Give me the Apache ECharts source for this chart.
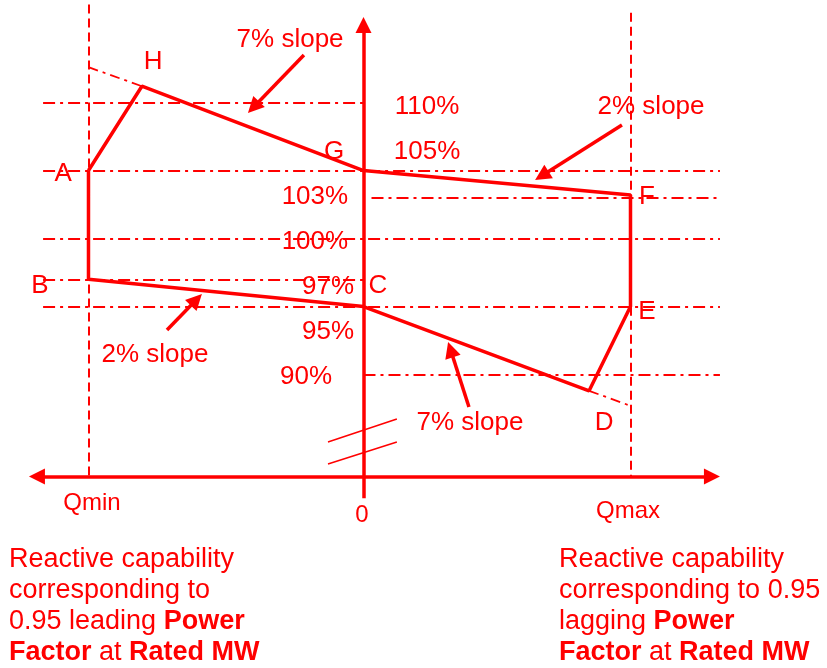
<!DOCTYPE html>
<html>
<head>
<meta charset="UTF-8">
<title>Reactive capability</title>
<style>
  html, body { margin: 0; padding: 0; background: #fff; }
  #chart { width: 827px; height: 668px; }
</style>
<script src="https://cdn.jsdelivr.net/npm/echarts@6/dist/echarts.min.js"></script>
</head>
<body>
<div id="chart"></div>
<script>
// x = reactive power (Qmin .. Qmax, in % of Qmax), y = voltage in %
var qMin = -103, qMax = 100;

// dash-dot voltage levels and how far each one runs along Q
var levels     = [110, 105, 103, 100, 97, 95, 90];
var levelFrom  = [-120, -120, 3, -120, -120, -120, 0];
var levelTo    = [0, 133.5, 133.5, 133.5, 0, 133.5, 133.5];
var levelNames = ['110%', '105%', '103%', '100%', '97%', '95%', '90%'];
var levelTextQ = [23.8, 23.8, -18.2, -18.2, -13.3, -13.3, -21.5];
var levelTextV = [109.7, 106.4, 103.05, 99.74, 96.43, 93.13, 89.82];

// corners of the capability boundary
var pointNames = ['A', 'H', 'G', 'F', 'E', 'D', 'C', 'B'];
var pointQ     = [-103, -83, 0, 100, 100, 84.5, 0, -103];
var pointV     = [105, 111.2, 105, 103.2, 95, 88.8, 95, 97];
var pointTextQ = [-112.5, -78.8, -11, 106.2, 106.2, 90.1, 5.4, -121.2];
var pointTextV = [104.74, 112.98, 106.36, 103.05, 94.6, 86.43, 96.51, 96.51];

// slope notes: text spot, arrow tail, arrow head
var slopeNames = ['7% slope', '2% slope', '2% slope', '7% slope'];
var slopeTextQ = [-27.5, 107.7, -78.1, 39.9];
var slopeTextV = [114.6, 109.67, 91.43, 86.43];
var arrowFrom  = [[-22.3, 113.49], [96.8, 108.35], [-73.6, 93.27], [39.5, 87.61]];
var arrowTo    = [[-41.2, 109.65], [66.8, 104.62], [-62.6, 95.5], [32.6, 91.83]];

var axisV = 82.5;
var red = '#ff0000';
var font = '"Liberation Sans", Arial, sans-serif';

var chart = echarts.init(document.getElementById('chart'));

var boundary = pointQ.map(function (q, i) { return [q, pointV[i]]; });
boundary.push(boundary[0]);

function seg(a, b) { return { coords: [a, b] }; }

var option = {
  animation: false,
  backgroundColor: '#fff',
  grid: { left: 0, right: 0, top: 0, bottom: 0 },
  xAxis: { type: 'value', min: -136.14, max: 173.6, show: false },
  yAxis: { type: 'value', min: 68.42, max: 117.54, show: false },
  series: [
    {
      type: 'lines', coordinateSystem: 'cartesian2d', silent: true, z: 1,
      symbol: 'none',
      lineStyle: { color: red, width: 2, opacity: 1, type: [12, 5, 3, 5] },
      data: levels.map(function (v, i) { return seg([levelFrom[i], v], [levelTo[i], v]); })
    },
    {
      type: 'lines', coordinateSystem: 'cartesian2d', silent: true, z: 1,
      symbol: 'none',
      lineStyle: { color: red, width: 2, opacity: 1, type: [9, 5] },
      data: [seg([qMin, 117.2], [qMin, axisV]), seg([qMax, 116.6], [qMax, axisV])]
    },
    {
      type: 'lines', coordinateSystem: 'cartesian2d', silent: true, z: 1,
      symbol: 'none',
      lineStyle: { color: red, width: 1.8, opacity: 1, type: [10, 5, 3, 5] },
      data: [seg([qMin, 112.6], [pointQ[1], pointV[1]]), seg([pointQ[5], pointV[5]], [qMax, 87.7])]
    },
    {
      type: 'line', silent: true, z: 5, symbol: 'none',
      lineStyle: { color: red, width: 3.5 },
      data: boundary
    },
    {
      type: 'lines', coordinateSystem: 'cartesian2d', silent: true, z: 4,
      symbol: ['triangle', 'triangle'], symbolSize: 16,
      lineStyle: { color: red, width: 3.5, opacity: 1 },
      data: [seg([-122.3, axisV], [130.5, axisV])]
    },
    {
      type: 'lines', coordinateSystem: 'cartesian2d', silent: true, z: 4,
      symbol: ['none', 'triangle'], symbolSize: 16,
      lineStyle: { color: red, width: 3.5, opacity: 1 },
      data: [seg([0, 80.9], [0, 115.7])]
    },
    {
      type: 'lines', coordinateSystem: 'cartesian2d', silent: true, z: 4,
      symbol: 'none',
      lineStyle: { color: red, width: 1.5, opacity: 1 },
      data: [seg([-13.3, 85.04], [12.5, 86.73]), seg([-13.3, 83.42], [12.5, 85.04])]
    },
    {
      type: 'lines', coordinateSystem: 'cartesian2d', silent: true, z: 4,
      symbol: ['none', 'triangle'], symbolSize: 16,
      lineStyle: { color: red, width: 3.5, opacity: 1 },
      data: arrowFrom.map(function (a, i) { return seg(a, arrowTo[i]); })
    },
    {
      type: 'scatter', silent: true, z: 6, symbolSize: 0,
      itemStyle: { opacity: 1 },
      label: {
        show: true, position: 'inside', color: red, fontSize: 26, fontFamily: font, opacity: 1,
        formatter: function (p) { return p.name; }
      },
      data: [].concat(
        levelNames.map(function (n, i) { return { name: n, value: [levelTextQ[i], levelTextV[i]] }; }),
        pointNames.map(function (n, i) { return { name: n, value: [pointTextQ[i], pointTextV[i]] }; }),
        slopeNames.map(function (n, i) { return { name: n, value: [slopeTextQ[i], slopeTextV[i]] }; })
      )
    },
    {
      type: 'scatter', silent: true, z: 6, symbolSize: 0,
      itemStyle: { opacity: 1 },
      label: {
        show: true, position: 'inside', color: red, fontSize: 24, fontFamily: font, opacity: 1,
        formatter: function (p) { return p.name; }
      },
      data: [
        { name: 'Qmin', value: [-101.7, 80.55] },
        { name: '0', value: [-0.6, 79.67] },
        { name: 'Qmax', value: [99.1, 79.96] }
      ]
    }
  ],
  graphic: [
    {
      type: 'text', left: 9, top: 544,
      style: {
        text: '{n|Reactive capability}\n{n|corresponding to}\n{n|0.95 leading }{b|Power}\n{b|Factor}{n| at }{b|Rated MW}',
        fill: red, font: '27px ' + font, lineHeight: 31,
        rich: {
          n: { fontSize: 27, fontFamily: font, fill: red, lineHeight: 31 },
          b: { fontSize: 27, fontFamily: font, fill: red, fontWeight: 'bold', lineHeight: 31 }
        }
      }
    },
    {
      type: 'text', left: 559, top: 544,
      style: {
        text: '{n|Reactive capability}\n{n|corresponding to 0.95}\n{n|lagging }{b|Power}\n{b|Factor}{n| at }{b|Rated MW}',
        fill: red, font: '27px ' + font, lineHeight: 31,
        rich: {
          n: { fontSize: 27, fontFamily: font, fill: red, lineHeight: 31 },
          b: { fontSize: 27, fontFamily: font, fill: red, fontWeight: 'bold', lineHeight: 31 }
        }
      }
    }
  ]
};

chart.setOption(option);
</script>
</body>
</html>
